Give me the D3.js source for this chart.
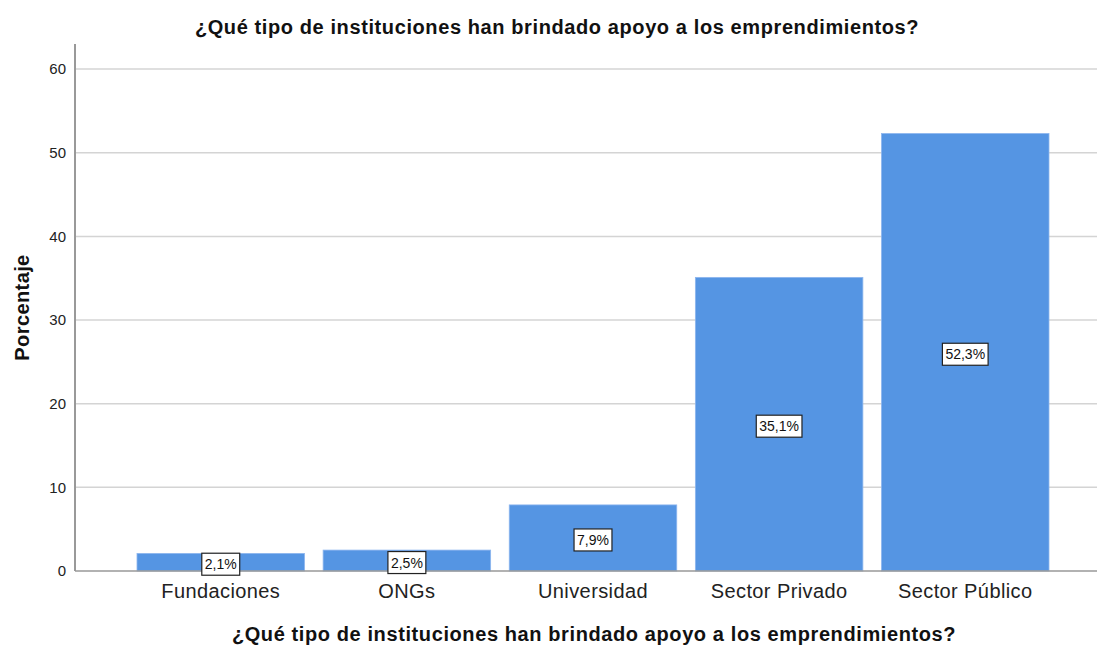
<!DOCTYPE html>
<html>
<head>
<meta charset="utf-8">
<script src="https://cdn.jsdelivr.net/npm/d3@7"></script>
<style>
  body { margin: 0; background: #fff; }
  text { font-family: Arial, "Liberation Sans", sans-serif; }
</style>
</head>
<body>
<svg id="chart" width="1097" height="646"></svg>
<script>
var categories = ['Fundaciones', 'ONGs', 'Universidad', 'Sector Privado', 'Sector Público'];
var values = [2.1, 2.5, 7.9, 35.1, 52.3];
var valueLabels = ['2,1%', '2,5%', '7,9%', '35,1%', '52,3%'];
var yTicks = [0, 10, 20, 30, 40, 50, 60];
var title = '¿Qué tipo de instituciones han brindado apoyo a los emprendimientos?';

var svg = d3.select('#chart');
var plotLeft = 75, plotRight = 1097, plotTop = 44, plotBottom = 571;

var x = d3.scaleBand()
    .domain(categories)
    .range([137, 1049])
    .paddingInner(0.1)
    .paddingOuter(0);

var y = d3.scaleLinear()
    .domain([0, 63])
    .range([plotBottom, plotTop]);

// gridlines
svg.append('g')
    .selectAll('line')
    .data(yTicks.slice(1))
    .enter()
    .append('line')
    .attr('x1', plotLeft)
    .attr('x2', plotRight)
    .attr('y1', function (d) { return y(d); })
    .attr('y2', function (d) { return y(d); })
    .style('stroke', '#d4d4d4')
    .style('stroke-width', 1.5);

// bars
var data = categories.map(function (c, i) {
    return {cat: c, value: values[i], label: valueLabels[i]};
});

svg.append('g')
    .selectAll('rect')
    .data(data)
    .enter()
    .append('rect')
    .attr('x', function (d) { return x(d.cat); })
    .attr('width', x.bandwidth())
    .attr('y', function (d) { return y(d.value); })
    .attr('height', function (d) { return y(0) - y(d.value); })
    .style('fill', '#5595e3')
    .style('stroke', '#8db6ee')
    .style('stroke-width', 0.8);

// y axis
var yAxis = d3.axisLeft(y).tickValues(yTicks).tickSize(0).tickPadding(9);
var gy = svg.append('g')
    .attr('transform', 'translate(' + plotLeft + ',0)')
    .call(yAxis);
gy.select('.domain').remove();
gy.selectAll('text')
    .style('font-size', '15px')
    .style('fill', '#222');

svg.append('line')
    .attr('x1', plotLeft).attr('x2', plotLeft)
    .attr('y1', plotTop).attr('y2', plotBottom)
    .style('stroke', '#999')
    .style('stroke-width', 2);

// x axis
var xAxis = d3.axisBottom(x).tickSize(0).tickPadding(13);
var gx = svg.append('g')
    .attr('transform', 'translate(0,' + plotBottom + ')')
    .call(xAxis);
gx.select('.domain').remove();
gx.selectAll('text')
    .style('font-size', '20px')
    .style('letter-spacing', '0.4px')
    .style('fill', '#222');

svg.append('line')
    .attr('x1', plotLeft).attr('x2', plotRight)
    .attr('y1', plotBottom).attr('y2', plotBottom)
    .style('stroke', '#999')
    .style('stroke-width', 1.5);

// value labels
var lab = svg.append('g')
    .selectAll('g')
    .data(data)
    .enter()
    .append('g')
    .attr('transform', function (d) {
        return 'translate(' + (x(d.cat) + x.bandwidth() / 2) + ',' + (y(d.value / 2) + 2) + ')';
    });

lab.append('text')
    .attr('text-anchor', 'middle')
    .attr('dy', '0.36em')
    .style('font-size', '14px')
    .style('fill', '#111')
    .text(function (d) { return d.label; });

lab.each(function () {
    var g = d3.select(this);
    var bb = g.select('text').node().getBBox();
    g.insert('rect', 'text')
        .attr('x', bb.x - 3)
        .attr('y', -11)
        .attr('width', bb.width + 6)
        .attr('height', 22)
        .style('fill', '#fff')
        .style('stroke', '#222')
        .style('stroke-width', 1.2);
});

// titles
svg.append('text')
    .attr('x', 557)
    .attr('y', 34)
    .attr('text-anchor', 'middle')
    .style('font-size', '20px')
    .style('letter-spacing', '0.6px')
    .style('font-weight', 'bold')
    .style('fill', '#111')
    .text(title);

svg.append('text')
    .attr('x', 594)
    .attr('y', 641)
    .attr('text-anchor', 'middle')
    .style('font-size', '20px')
    .style('letter-spacing', '0.6px')
    .style('font-weight', 'bold')
    .style('fill', '#111')
    .text(title);

svg.append('text')
    .attr('transform', 'translate(29,' + ((plotTop + plotBottom) / 2) + ') rotate(-90)')
    .attr('text-anchor', 'middle')
    .style('font-size', '20px')
    .style('letter-spacing', '0.4px')
    .style('font-weight', 'bold')
    .style('fill', '#111')
    .text('Porcentaje');
</script>
</body>
</html>
